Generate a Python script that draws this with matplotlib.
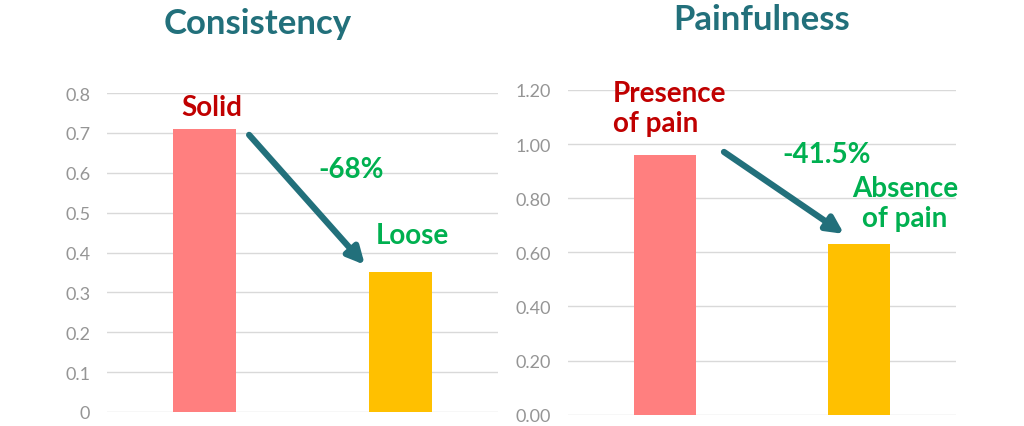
import numpy as np
import matplotlib.pyplot as plt

plt.rcParams['font.family'] = ['Lato', 'DejaVu Sans']

# data
cons_labels = ['Solid', 'Loose']
cons_values = [0.71, 0.35]
cons_ticks = [0, 0.1, 0.2, 0.3, 0.4, 0.5, 0.6, 0.7, 0.8]

pain_labels = ['Presence\nof pain', 'Absence\nof pain']
pain_values = [0.96, 0.63]
pain_ticks = [0.0, 0.2, 0.4, 0.6, 0.8, 1.0, 1.2]

bar_colors = ['#FF7F7F', '#FFC000']
teal = '#22707B'
red_txt = '#C00000'
green_txt = '#00B050'

fig = plt.figure(figsize=(10.24, 4.27), dpi=100)
ax1 = fig.add_axes([0.1045, 0.0328, 0.3818, 0.747])
ax2 = fig.add_axes([0.5547, 0.0265, 0.3789, 0.7604])

def style(ax, ticks, fmt):
    for s in ax.spines.values():
        s.set_visible(False)
    ax.set_yticks(ticks)
    ax.set_yticklabels([fmt.format(t) for t in ticks], color='#959595',
                       fontsize=13)
    ax.set_xticks([])
    ax.tick_params(axis='y', length=0, pad=12)
    ax.grid(axis='y', color='#D9D9D9', lw=1)
    ax.set_axisbelow(True)
    ax.set_xlim(-0.5, 1.5)
    ax.set_ylim(ticks[0], ticks[-1])

# left panel
ax1.bar([0, 1], cons_values, width=0.32, color=bar_colors)
style(ax1, cons_ticks, '{:g}')
fig.text(0.252, 0.944, 'Consistency', color=teal, fontsize=25,
         fontweight='bold', ha='center', va='center')
ax1.text(0.038, 0.765, cons_labels[0], color=red_txt, fontsize=20,
         fontweight='bold', ha='center', va='center')
ax1.text(1.064, 0.444, cons_labels[1], color=green_txt, fontsize=20,
         fontweight='bold', ha='center', va='center')
ax1.text(0.747, 0.609, '-68%', color=green_txt, fontsize=20,
         fontweight='bold', ha='center', va='center')
ax1.annotate('', xy=(0.819, 0.369), xytext=(0.227, 0.695),
             arrowprops=dict(arrowstyle='-|>', lw=4.5, color=teal,
                             mutation_scale=25, shrinkA=0, shrinkB=0))

# right panel
ax2.bar([0, 1], pain_values, width=0.32, color=bar_colors)
style(ax2, pain_ticks, '{:.2f}')
fig.text(0.744, 0.953, 'Painfulness', color=teal, fontsize=25,
         fontweight='bold', ha='center', va='center')
ax2.text(-0.268, 1.133, pain_labels[0], color=red_txt, fontsize=20,
         fontweight='bold', ha='left', va='center')
ax2.text(1.237, 0.782, pain_labels[1], color=green_txt, fontsize=20,
         fontweight='bold', ha='center', va='center', multialignment='center')
ax2.text(0.835, 0.963, '-41.5%', color=green_txt, fontsize=20,
         fontweight='bold', ha='center', va='center')
ax2.annotate('', xy=(0.923, 0.668), xytext=(0.304, 0.971),
             arrowprops=dict(arrowstyle='-|>', lw=4.5, color=teal,
                             mutation_scale=25, shrinkA=0, shrinkB=0))

fig.savefig('out.png', dpi=100)
